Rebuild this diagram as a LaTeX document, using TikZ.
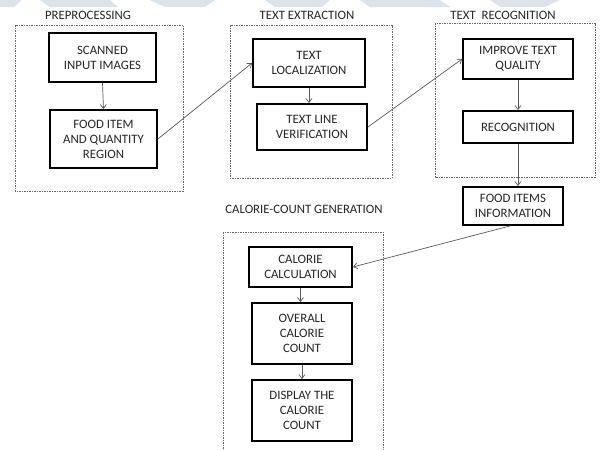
\documentclass[tikz,border=0pt]{standalone}
\usepackage{fontspec}
\setmainfont{Carlito}
\usetikzlibrary{arrows.meta}
\begin{document}
\begin{tikzpicture}[x=1pt,y=-1pt,
  lbl/.style={font=\fontsize{12.8}{15}\selectfont, text=black!85, align=center},
  stagebox/.style={draw=black, line width=1.9pt, fill=white, inner sep=1pt},
  group/.style={draw=black!60, line width=0.6pt, dash pattern=on 1.5pt off 1pt},
  flow/.style={draw=black!65, line width=0.7pt, -{Straight Barb[length=4pt,width=6pt]}},
  wm/.style={fill={rgb,255:red,221;green,227;blue,234}, draw=none}]
\useasboundingbox (0,0) rectangle (600,450);
\clip (0,0) rectangle (600,450);
% faint watermark bands
\fill[wm] (0,0) -- (22,0) -- (14,7) -- (0,7) -- cycle;
\fill[wm] (40,0) -- (110,0) -- (118,7) -- (50,7) -- cycle;
\fill[wm] (150,0) -- (215,0) -- (205,7) -- (165,7) -- cycle;
\fill[wm] (265,0) -- (330,0) -- (322,7) -- (275,7) -- cycle;
\fill[wm] (360,0) -- (440,0) -- (450,7) -- (370,7) -- cycle;
\fill[wm] (490,0) -- (560,0) -- (545,7) -- (500,7) -- cycle;
% group frames
\draw[group] (15,25) rectangle (183,191);
\draw[group] (230,25) rectangle (392,178);
\draw[group] (435,23) rectangle (595,177);
\draw[group] (223,232) rectangle (383,460);
% titles
\node[lbl] (tpre) at (88,15) {PREPROCESSING};
\node[lbl] (text) at (307,15) {TEXT EXTRACTION};
\node[lbl] (trec) at (503,15) {TEXT~~RECOGNITION};
\node[lbl] (tcal) at (304,209) {CALORIE-COUNT GENERATION};
% stages
\node[stagebox, lbl, minimum width=107pt, minimum height=49pt] (scan) at (102.5,57.5) {SCANNED\\INPUT IMAGES};
\node[stagebox, lbl, minimum width=107pt, minimum height=58pt] (food) at (103.5,139) {FOOD ITEM\\AND QUANTITY\\REGION};
\node[stagebox, lbl, minimum width=112pt, minimum height=48pt] (loc) at (309,63) {TEXT\\LOCALIZATION};
\node[stagebox, lbl, minimum width=110pt, minimum height=46pt] (ver) at (312,127) {TEXT LINE\\VERIFICATION};
\node[stagebox, lbl, minimum width=110pt, minimum height=40pt] (imp) at (518,59) {IMPROVE TEXT\\QUALITY};
\node[stagebox, lbl, minimum width=110pt, minimum height=32pt] (rec) at (518,127) {RECOGNITION};
\node[stagebox, lbl, minimum width=100pt, minimum height=38pt] (info) at (513,206) {FOOD ITEMS\\INFORMATION};
\node[stagebox, lbl, minimum width=103pt, minimum height=40pt] (calc) at (300.5,267) {CALORIE\\CALCULATION};
\node[stagebox, lbl, minimum width=100pt, minimum height=61pt] (over) at (302,333.5) {OVERALL\\CALORIE\\COUNT};
\node[stagebox, lbl, minimum width=100pt, minimum height=61pt] (disp) at (302,410.5) {DISPLAY THE\\CALORIE\\COUNT};
% connectors
\draw[flow] (scan.south) -- (food.north);
\draw[flow] (food.east) -- (loc.west);
\draw[flow] (loc.south) -- (loc.south |- ver.north);
\draw[flow] (ver.east) -- (imp.west);
\draw[flow] (imp.south) -- (rec.north);
\draw[flow] (rec.south) -- (rec.south |- info.north);
\draw[flow] ([xshift=-3pt]info.south) -- (calc.east);
\draw[flow] (calc.south) -- (calc.south |- over.north);
\draw[flow] (over.south) -- (disp.north);
\end{tikzpicture}
\end{document}
